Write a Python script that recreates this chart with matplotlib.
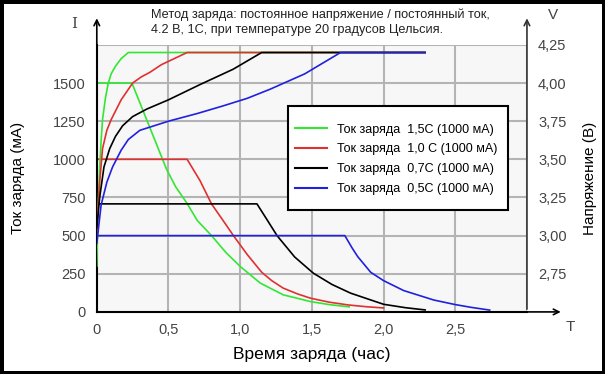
import matplotlib
matplotlib.use("Agg")
import matplotlib.pyplot as plt
from matplotlib.patches import Rectangle

plt.rcParams['font.family'] = ['Liberation Sans', 'DejaVu Sans']

# ток заряда (мА) по времени (час)
t_i15 = [0, 0.245, 0.487, 0.55, 0.627, 0.7, 0.8, 0.9, 1.0, 1.14, 1.3, 1.49, 1.62, 1.76]
i15 = [1500, 1500, 934, 820, 715, 600, 500, 390, 298, 189, 112, 68, 48, 33]
t_i10 = [0, 0.63, 0.72, 0.8, 0.88, 0.953, 1.05, 1.15, 1.22, 1.3, 1.4, 1.49, 1.62, 1.75, 1.88, 2.0]
i10 = [1000, 1000, 860, 708, 600, 500, 375, 260, 205, 156, 118, 90, 64, 46, 34, 26]
t_i07 = [0, 1.117, 1.19, 1.257, 1.38, 1.51, 1.64, 1.77, 2.0, 2.15, 2.29]
i07 = [708, 708, 600, 500, 360, 254, 180, 123, 50, 28, 13]
t_i05 = [0, 1.73, 1.78, 1.82, 1.91, 2.0, 2.14, 2.35, 2.5, 2.61, 2.74]
i05 = [500, 500, 420, 362, 260, 205, 140, 78, 48, 30, 12]

# напряжение (В)
t_v15 = [0, 0.005, 0.01, 0.02, 0.03, 0.04, 0.06, 0.08, 0.1, 0.13, 0.17, 0.22, 2.29]
v15 = [2.8, 3.05, 3.2, 3.45, 3.62, 3.76, 3.9, 4.0, 4.06, 4.11, 4.16, 4.2, 4.2]
t_v10 = [0, 0.01, 0.02, 0.04, 0.07, 0.1, 0.17, 0.25, 0.31, 0.37, 0.45, 0.54, 0.63, 2.29]
v10 = [3.0, 3.2, 3.35, 3.57, 3.69, 3.76, 3.89, 4.0, 4.04, 4.07, 4.12, 4.16, 4.2, 4.2]
t_v07 = [0, 0.02, 0.05, 0.09, 0.13, 0.18, 0.25, 0.35, 0.5, 0.72, 0.95, 1.15, 2.29]
v07 = [3.05, 3.25, 3.45, 3.57, 3.65, 3.72, 3.78, 3.83, 3.89, 3.99, 4.09, 4.2, 4.2]
t_v05 = [0, 0.03, 0.07, 0.11, 0.17, 0.22, 0.3, 0.4, 0.5, 0.7, 0.88, 1.05, 1.21, 1.45, 1.7, 2.29]
v05 = [2.95, 3.2, 3.35, 3.45, 3.56, 3.63, 3.69, 3.72, 3.75, 3.8, 3.85, 3.9, 3.96, 4.06, 4.2, 4.2]

labels = ['Ток заряда  1,5С (1000 мА)', 'Ток заряда  1,0 С (1000 мА)',
          'Ток заряда  0,7С (1000 мА)', 'Ток заряда  0,5С (1000 мА)']
colors = ['#33e633', '#e03030', '#000000', '#2020e0']

x_ticks = [0, 0.5, 1.0, 1.5, 2.0, 2.5]
x_labels = ['0', '0,5', '1,0', '1,5', '2,0', '2,5']
i_ticks = [0, 250, 500, 750, 1000, 1250, 1500]
v_ticks = [2.75, 3.0, 3.25, 3.5, 3.75, 4.0, 4.25]
v_labels = ['2,75', '3,00', '3,25', '3,50', '3,75', '4,00', '4,25']

fig = plt.figure(figsize=(6.05, 3.74), dpi=100, facecolor='white',
                 edgecolor='black', linewidth=5)
ax = fig.add_axes([0.160, 0.166, 0.711, 0.714])
ax.set_facecolor('#f7f7f7')
ax2 = ax.twinx()

ax.set_xlim(0, 3.0)
ax.set_ylim(0, 1750)
ax2.set_ylim(2.5, 4.25)

for s in ['top', 'right']:
    ax.spines[s].set_visible(False)
    ax2.spines[s].set_visible(False)
ax2.spines['left'].set_visible(False)
ax2.spines['bottom'].set_visible(False)
ax.spines['left'].set_linewidth(1.5)
ax.spines['bottom'].set_linewidth(1.5)

# сетка
for gx in [0.5, 1.0, 1.5, 2.0, 2.5, 3.0]:
    ax.axvline(gx, color='#b4b4b4', lw=1.5, zorder=0)
for gy in [250, 500, 750, 1000, 1250, 1500, 1750]:
    ax.axhline(gy, color='#b4b4b4', lw=1.5, zorder=0)

# стрелки осей
ax.annotate('', xy=(0, 1.11), xytext=(0, 0.99), xycoords='axes fraction',
            arrowprops=dict(arrowstyle='->', lw=1.2, color='black'))
ax.annotate('', xy=(1.085, 0), xytext=(0.99, 0), xycoords='axes fraction',
            arrowprops=dict(arrowstyle='->', lw=1.2, color='black'))
ax.annotate('', xy=(1.0, 1.11), xytext=(1.0, 0.0), xycoords='axes fraction',
            arrowprops=dict(arrowstyle='->', lw=1.2, color='#333333'))

ax2.plot(t_v15, v15, color=colors[0], lw=1.2)
ax2.plot(t_v10, v10, color=colors[1], lw=1.2)
ax2.plot(t_v07, v07, color=colors[2], lw=1.2)
ax2.plot(t_v05, v05, color=colors[3], lw=1.2)

l1, = ax.plot(t_i15, i15, color=colors[0], lw=1.2)
l2, = ax.plot(t_i10, i10, color=colors[1], lw=1.2)
l3, = ax.plot(t_i07, i07, color=colors[2], lw=1.2)
l4, = ax.plot(t_i05, i05, color=colors[3], lw=1.2)

ax.set_xticks(x_ticks)
ax.set_xticklabels(x_labels)
ax.set_yticks(i_ticks)
ax2.set_yticks(v_ticks)
ax2.set_yticklabels(v_labels)
ax.tick_params(length=0, labelsize=10.5, labelcolor='#444444', pad=8)
ax2.tick_params(length=0, labelsize=10.5, labelcolor='#444444', pad=8)

ax.set_ylabel('Ток заряда (мА)', fontsize=11, labelpad=20)
ax.set_xlabel('Время заряда (час)', fontsize=12.5, labelpad=7)
ax2.set_ylabel('Напряжение (В)', fontsize=11, rotation=90, labelpad=12)

# рамка легенды
box = Rectangle((0.444, 0.382), 0.512, 0.39, transform=ax.transAxes,
                facecolor='white', edgecolor='black', lw=1.5, zorder=5)
ax2.add_patch(box)
leg = ax2.legend([l1, l2, l3, l4], labels, loc='upper left',
                 bbox_to_anchor=(0.4605, 0.705), frameon=False,
                 fontsize=9, handlelength=2.55, handletextpad=0.8,
                 labelspacing=0.62, borderpad=0, borderaxespad=0)
leg.set_zorder(6)
for h in leg.legend_handles:
    h.set_linewidth(1.5)

fig.text(0.249, 0.953, 'Метод заряда: постоянное напряжение / постоянный ток,',
         fontsize=9.2, color='#222222')
fig.text(0.249, 0.913, '4.2 В, 1С, при температуре 20 градусов Цельсия.',
         fontsize=9.2, color='#222222')
fig.text(0.117, 0.925, 'I', fontsize=11, family='DejaVu Serif', color='#444444')
fig.text(0.905, 0.948, 'V', fontsize=11, color='#444444')
fig.text(0.935, 0.115, 'T', fontsize=11, color='#444444')

fig.savefig('out.png', dpi=100)
